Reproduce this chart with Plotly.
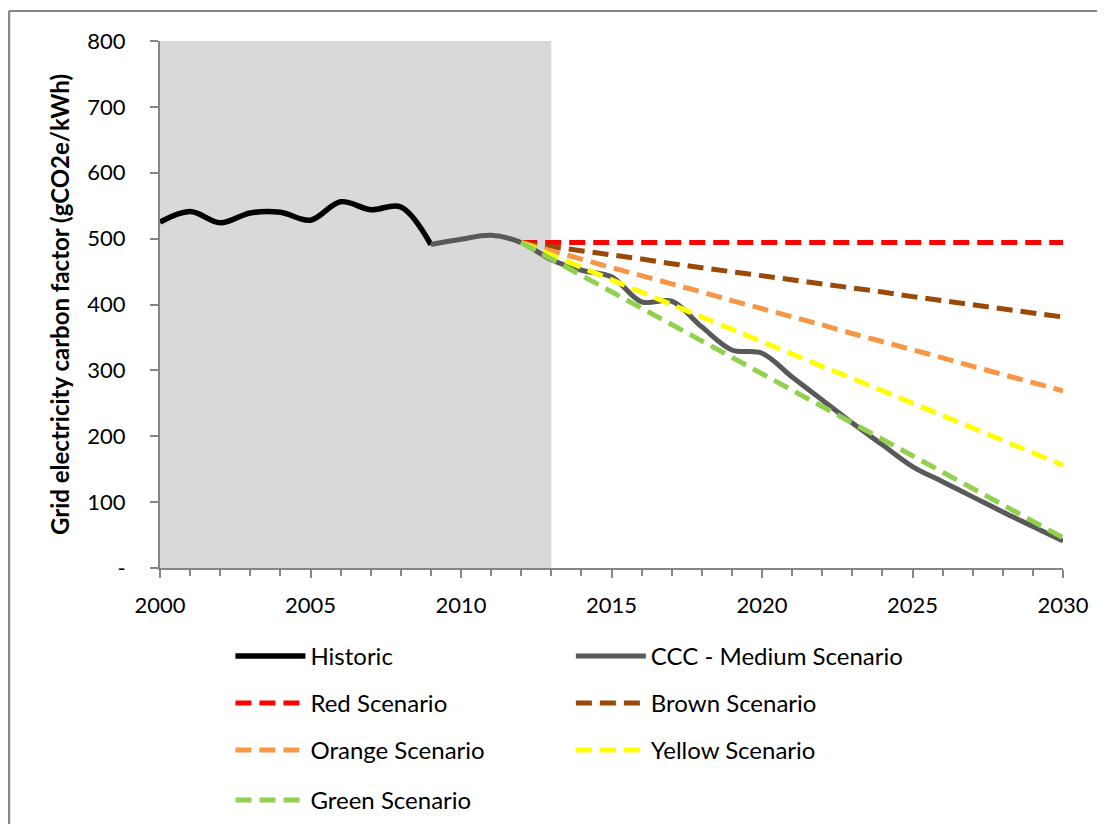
import plotly.graph_objects as go

# ---- data ----
hist_years = [2000, 2001, 2002, 2003, 2004, 2005, 2006, 2007, 2008, 2009]
hist_vals = [525, 541, 524, 539, 540, 528, 556, 544, 548, 491]

ccc_years = list(range(2009, 2031))
ccc_vals = [491, 499, 505, 494, 468, 452, 442, 404, 405, 366, 331, 326,
            290, 255, 220, 187, 154, 131, 108, 85, 63, 41]

scen_years = list(range(2012, 2031))
red_vals = [494] * 19
brown_vals = [494, 488, 481, 475, 469, 462, 456, 450, 444, 437, 431, 425, 419, 412, 406, 400, 394, 387, 381]
orange_vals = [494, 482, 469, 456, 444, 432, 419, 406, 394, 382, 369, 356, 344, 332, 319, 306, 294, 282, 269]
yellow_vals = [494, 475, 456, 438, 419, 400, 381, 363, 344, 325, 306, 288, 269, 250, 231, 213, 194, 175, 156]
green_vals = [494, 469, 444, 419, 394, 370, 345, 320, 295, 270, 245, 220, 195, 170, 146, 121, 96, 71, 46]

shade_start, shade_end = 2000, 2013
y_tickvals = [0, 100, 200, 300, 400, 500, 600, 700, 800]
y_ticktext = ["-", "100", "200", "300", "400", "500", "600", "700", "800"]
x_tickvals = [2000, 2005, 2010, 2015, 2020, 2025, 2030]

FONT = "Lato"

# legend grid (paper units): two columns, four rows
COL = [0.078, 0.455]
ROW = [-0.1252, -0.2144, -0.3036, -0.3985]

fig = go.Figure()

fig.add_trace(go.Scatter(x=hist_years, y=hist_vals, name="Historic", mode="lines",
                         line=dict(color="#000000", width=5.5, shape="spline"),
                         legend="legend", showlegend=True))
fig.add_trace(go.Scatter(x=ccc_years, y=ccc_vals, name="CCC - Medium Scenario", mode="lines",
                         line=dict(color="#595959", width=5, shape="spline"),
                         legend="legend2", showlegend=True))

scen = [
    ("Red Scenario", red_vals, "#FF0000", "legend3"),
    ("Brown Scenario", brown_vals, "#9A4A06", "legend4"),
    ("Orange Scenario", orange_vals, "#F79646", "legend5"),
    ("Yellow Scenario", yellow_vals, "#FFFF00", "legend6"),
    ("Green Scenario", green_vals, "#92D050", "legend7"),
]
for name, vals, col, lg in scen:
    fig.add_trace(go.Scatter(x=scen_years, y=vals, name=name, mode="lines",
                             line=dict(color=col, width=5, dash="16px,8px"),
                             legend=lg, showlegend=True))

# shaded historic period
fig.add_shape(type="rect", xref="x", yref="y", x0=shade_start, x1=shade_end,
              y0=y_tickvals[0], y1=y_tickvals[-1], fillcolor="#D9D9D9",
              line=dict(width=0), layer="below")

# outer chart border (top and left)
fig.add_shape(type="line", xref="paper", yref="paper", x0=-0.1672, x1=1.06, y0=1.0569, y1=1.0569,
              line=dict(color="#868686", width=2))
fig.add_shape(type="line", xref="paper", yref="paper", x0=-0.1672, x1=-0.1672, y0=1.0569, y1=-0.52,
              line=dict(color="#868686", width=2.5))

fig.update_xaxes(range=[2000, 2030], tickvals=x_tickvals, ticks="outside", ticklen=8,
                 tickcolor="#868686", tickwidth=2, showline=True, linecolor="#868686", linewidth=2,
                 showgrid=False, zeroline=False, ticklabelstandoff=9,
                 minor=dict(dtick=1, ticks="outside", ticklen=6, tickcolor="#868686", tickwidth=2, showgrid=False),
                 tickfont=dict(family=FONT, size=22, color="#000000"))
fig.update_yaxes(range=[0, 800], tickvals=y_tickvals, ticktext=y_ticktext, ticks="outside", ticklen=8,
                 tickcolor="#868686", tickwidth=2, showline=True, linecolor="#868686", linewidth=2,
                 showgrid=False, zeroline=False, ticklabelstandoff=20,
                 tickfont=dict(family=FONT, size=22, color="#000000"),
                 title=dict(text="<b>Grid electricity carbon factor (gCO2e/kWh)</b>",
                            font=dict(family=FONT, size=24, color="#000000"), standoff=11))

legend_common = dict(orientation="v", yanchor="top", xanchor="left",
                     bgcolor="rgba(0,0,0,0)", font=dict(family=FONT, size=24, color="#000000"),
                     itemwidth=70)
legend_pos = {
    "legend": (COL[0], ROW[0]), "legend2": (COL[1], ROW[0]),
    "legend3": (COL[0], ROW[1]), "legend4": (COL[1], ROW[1]),
    "legend5": (COL[0], ROW[2]), "legend6": (COL[1], ROW[2]),
    "legend7": (COL[0], ROW[3]),
}
fig.update_layout(
    width=1097, height=816,
    margin=dict(l=152, r=42, t=33, b=256, autoexpand=False),
    paper_bgcolor="white", plot_bgcolor="white",
    font=dict(family=FONT),
    showlegend=True,
    **{k: dict(x=v[0], y=v[1], **legend_common) for k, v in legend_pos.items()},
)

fig.write_html("out.html")
